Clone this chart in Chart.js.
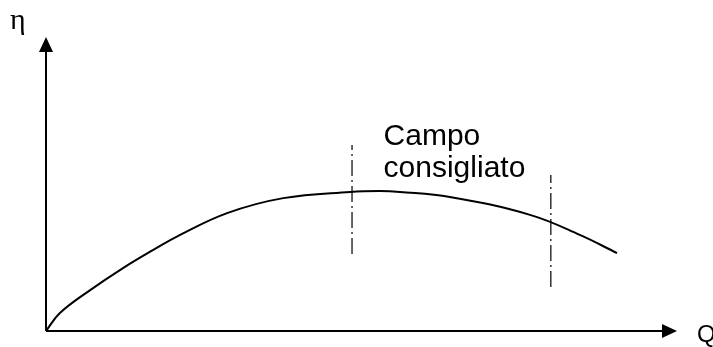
<!DOCTYPE html>
<html>
<head>
<meta charset="utf-8">
<script src="https://cdn.jsdelivr.net/npm/chart.js@4/dist/chart.umd.min.js"></script>
<style>
  html, body { margin: 0; padding: 0; background: #fff; }
  #wrap { width: 713px; height: 347px; }
</style>
</head>
<body>
<div id="wrap"><canvas id="effChart"></canvas></div>
<script>
// efficiency curve eta(Q), abstract units (0..100 on both axes)
var curveQ   = [0, 2.2, 7.0, 12.2, 17.0, 20.9, 28.7, 37.6, 48.2, 52.9, 56.1, 64.0, 76.7, 84.6, 90.5];
var curveEta = [0, 6.1, 13.9, 21.4, 27.6, 32.3, 40.1, 45.2, 47.3, 47.6, 47.3, 45.6, 39.5, 32.7, 26.5];

// recommended operating range limits (dash-dot lines)
var rangeQ   = [48.5, 80.0];
var rangeTop = [63.3, 53.1];
var rangeBot = [26.2, 15.0];

var axisLabels = ['\u03b7', 'Q'];
var rangeText  = ['Campo', 'consigliato'];

function pts(xs, ys) {
    return xs.map(function (x, i) { return { x: x, y: ys[i] }; });
}

var datasets = [{
    data: pts(curveQ, curveEta),
    borderColor: '#000',
    borderWidth: 2,
    pointRadius: 0,
    tension: 0.4,
    fill: false
}];
rangeQ.forEach(function (q, i) {
    datasets.push({
        data: [{ x: q, y: rangeBot[i] }, { x: q, y: rangeTop[i] }],
        borderColor: '#333',
        borderWidth: 1.5,
        borderDash: [16, 4, 2, 4],
        pointRadius: 0,
        fill: false
    });
});

// axes with arrowheads + labels
var sketchPlugin = {
    id: 'sketch',
    afterDatasetsDraw: function (chart) {
        var ctx = chart.ctx;
        var xs = chart.scales.x, ys = chart.scales.y;
        var x0 = xs.getPixelForValue(0), y0 = ys.getPixelForValue(0);
        var xEnd = xs.getPixelForValue(100), yEnd = ys.getPixelForValue(100);
        ctx.save();
        ctx.strokeStyle = '#000';
        ctx.fillStyle = '#000';
        ctx.lineWidth = 2;
        ctx.beginPath();
        ctx.moveTo(x0, y0);
        ctx.lineTo(x0, yEnd + 14);
        ctx.moveTo(x0, y0);
        ctx.lineTo(xEnd - 14, y0);
        ctx.stroke();
        // arrow heads
        ctx.beginPath();
        ctx.moveTo(x0, yEnd);
        ctx.lineTo(x0 - 7, yEnd + 15);
        ctx.lineTo(x0 + 7, yEnd + 15);
        ctx.closePath();
        ctx.fill();
        ctx.beginPath();
        ctx.moveTo(xEnd, y0);
        ctx.lineTo(xEnd - 15, y0 - 7);
        ctx.lineTo(xEnd - 15, y0 + 7);
        ctx.closePath();
        ctx.fill();

        ctx.textBaseline = 'alphabetic';
        ctx.textAlign = 'left';
        ctx.font = '30px "Liberation Serif", "Times New Roman", serif';
        ctx.fillText(axisLabels[0], 10, 29);
        ctx.font = '24px "Liberation Sans", Arial, sans-serif';
        ctx.fillText(axisLabels[1], xEnd + 20, y0 + 11);

        ctx.font = '30px "Liberation Sans", Arial, sans-serif';
        var tx = xs.getPixelForValue(53.5);
        ctx.fillText(rangeText[0], tx, ys.getPixelForValue(63.3));
        ctx.fillText(rangeText[1], tx, ys.getPixelForValue(52.4));
        ctx.restore();
    }
};

new Chart(document.getElementById('effChart').getContext('2d'), {
    type: 'line',
    data: { datasets: datasets },
    options: {
        responsive: true,
        maintainAspectRatio: false,
        animation: false,
        layout: { padding: { left: 46, right: 36, top: 37, bottom: 16 } },
        scales: {
            x: { type: 'linear', min: 0, max: 100, display: false },
            y: { type: 'linear', min: 0, max: 100, display: false }
        },
        plugins: {
            legend: { display: false },
            tooltip: { enabled: false }
        }
    },
    plugins: [sketchPlugin]
});
</script>
</body>
</html>
